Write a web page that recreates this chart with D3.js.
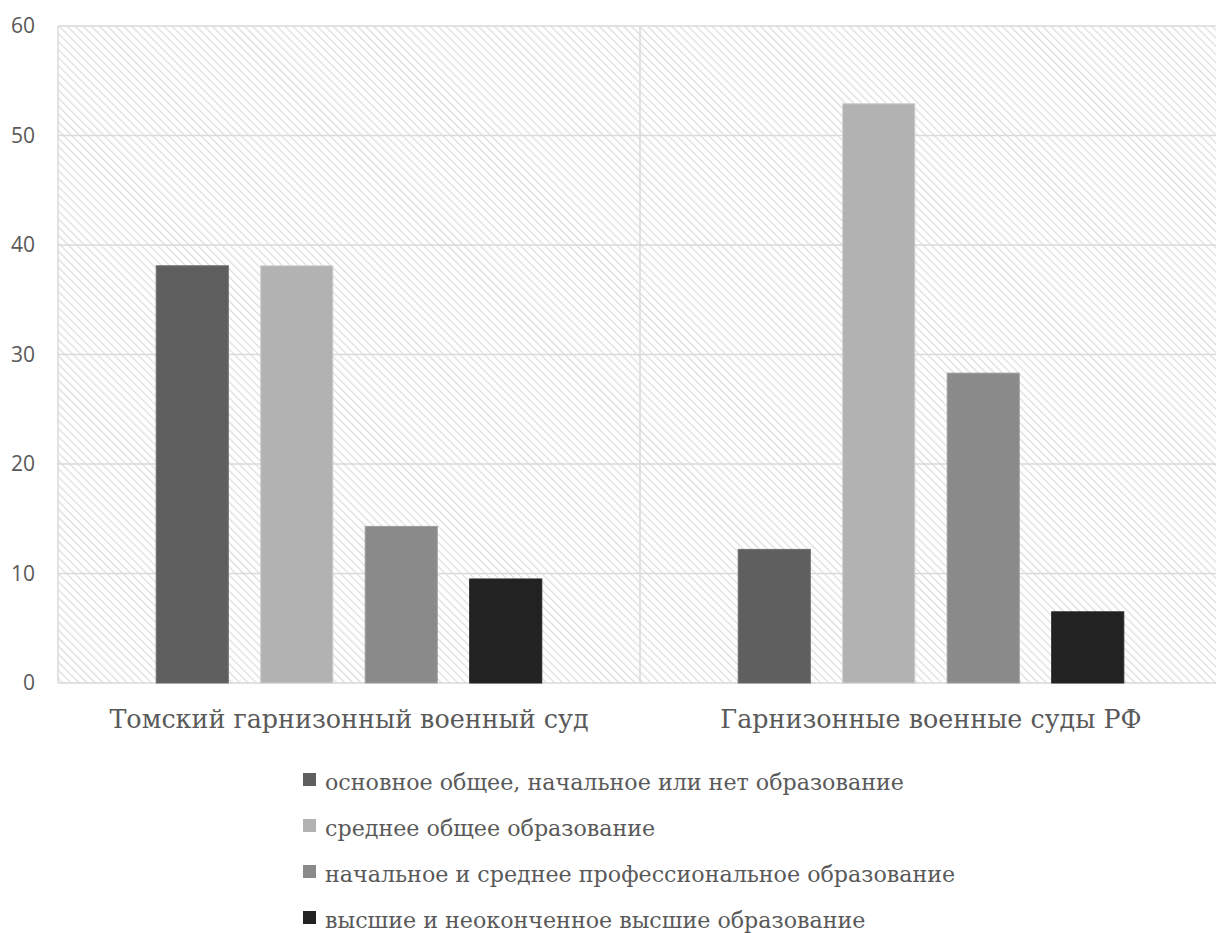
<!DOCTYPE html>
<html>
<head>
<meta charset="utf-8">
<script src="https://cdn.jsdelivr.net/npm/d3@7"></script>
<style>
  body { margin: 0; background: #fff; }
  .serif { font-family: "DejaVu Serif", serif; }
</style>
</head>
<body>
<div id="container"></div>
<script>
/* DATA */
const categories = ["Томский гарнизонный военный суд", "Гарнизонные военные суды РФ"];
const seriesNames = [
  "основное общее, начальное или нет образование",
  "среднее общее образование",
  "начальное и среднее профессиональное образование",
  "высшие и неоконченное высшие образование"
];
const seriesColors = ["#5f5f5f", "#b2b2b2", "#8a8a8a", "#222222"];
const valuesTomsk = [38.1, 38.1, 14.3, 9.5];
const valuesRF = [12.2, 52.9, 28.3, 6.5];
const yTicks = [0, 10, 20, 30, 40, 50, 60];

/* LAYOUT, plot runs a bit past the right edge like the original */
const W = 1216, H = 933;
const margin = { top: 26, right: -6, bottom: 250, left: 58 };
const width = W - margin.left - margin.right;
const height = H - margin.top - margin.bottom;

const data = categories.map((c, i) => ({
  cat: c,
  vals: (i === 0 ? valuesTomsk : valuesRF).map((v, j) => ({ s: seriesNames[j], v, j }))
}));

const svg = d3.select("#container").append("svg")
  .attr("width", W).attr("height", H);

// hatch pattern for plot background
const defs = svg.append("defs");
const pat = defs.append("pattern")
  .attr("id", "hatch")
  .attr("patternUnits", "userSpaceOnUse")
  .attr("width", 5.7).attr("height", 5.7)
  .attr("patternTransform", "rotate(-45)");
pat.append("rect").attr("width", 5.7).attr("height", 5.7).attr("fill", "#fff");
pat.append("line")
  .attr("x1", 0).attr("y1", 0).attr("x2", 0).attr("y2", 5.7)
  .attr("stroke", "#dcdcdc").attr("stroke-width", 2.4);

const g = svg.append("g").attr("transform", `translate(${margin.left},${margin.top})`);

/* SCALES */
const x0 = d3.scaleBand().domain(categories).range([0, width]);
const x1 = d3.scaleBand().domain(seriesNames).range([0, x0.bandwidth()])
  .paddingInner(0.31).paddingOuter(0.94);
const y = d3.scaleLinear().domain([0, 60]).range([height, 0]);

// background
g.append("rect").attr("width", width).attr("height", height).attr("fill", "url(#hatch)");

// gridlines
g.selectAll("line.grid").data(yTicks).join("line")
  .attr("class", "grid")
  .attr("x1", 0).attr("x2", width)
  .attr("y1", d => y(d)).attr("y2", d => y(d))
  .attr("stroke", "#d9d9d9").attr("stroke-width", 1.5);

// category separators and border
g.selectAll("line.sep").data([0, 1, 2]).join("line")
  .attr("class", "sep")
  .attr("x1", d => d * x0.bandwidth()).attr("x2", d => d * x0.bandwidth())
  .attr("y1", 0).attr("y2", height)
  .attr("stroke", "#d9d9d9").attr("stroke-width", 1.5);

/* BARS */
const groups = g.selectAll("g.cat").data(data).join("g")
  .attr("class", "cat")
  .attr("transform", d => `translate(${x0(d.cat)},0)`);

groups.selectAll("rect").data(d => d.vals).join("rect")
  .attr("x", d => x1(d.s))
  .attr("width", x1.bandwidth())
  .attr("y", d => y(d.v))
  .attr("height", d => y(0) - y(d.v))
  .attr("fill", d => seriesColors[d.j])
  .attr("stroke", d => d3.color(seriesColors[d.j]).brighter(0.4))
  .attr("stroke-width", 1);

/* AXES */
const yAxis = g.append("g").call(d3.axisLeft(y).tickValues(yTicks).tickSize(0).tickPadding(23));
yAxis.select(".domain").remove();
yAxis.selectAll("text")
  .style("font-family", "'Open Sans', sans-serif")
  .style("font-size", "21px").attr("fill", "#595959");

const xAxis = g.append("g").attr("transform", `translate(0,${height})`)
  .call(d3.axisBottom(x0).tickSize(0).tickPadding(27));
xAxis.attr("font-family", null).attr("font-size", null);
xAxis.select(".domain").remove();
xAxis.selectAll("text")
  .attr("class", "serif")
  .style("font-size", "25.4px").attr("fill", "#595959");

/* LEGEND */
const legend = svg.append("g").attr("transform", "translate(303,790)");
const items = legend.selectAll("g").data(seriesNames).join("g")
  .attr("transform", (d, i) => `translate(0,${i * 46})`);
items.append("rect")
  .attr("x", 0).attr("y", -17).attr("width", 13).attr("height", 13)
  .attr("fill", (d, i) => seriesColors[i]);
items.append("text")
  .attr("class", "serif")
  .attr("x", 22).attr("y", 0)
  .style("font-size", "22.2px").attr("fill", "#595959")
  .text(d => d);
</script>
</body>
</html>
